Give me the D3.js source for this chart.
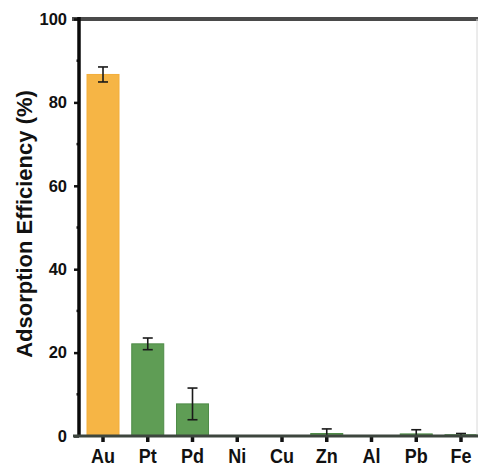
<!DOCTYPE html>
<html><head><meta charset="utf-8">
<script src="https://cdn.jsdelivr.net/npm/d3@7"></script>
<style>body{margin:0;background:#fff}svg{display:block}</style>
</head><body>
<svg id="c" width="478" height="467"></svg>
<script>
const categories = ["Au","Pt","Pd","Ni","Cu","Zn","Al","Pb","Fe"];
const values = [86.7, 22.1, 7.7, 0, 0, 0.6, 0, 0.5, 0.3];
const errors = [1.8, 1.4, 3.8, 0, 0, 1.1, 0, 1.0, 0.3];
const barColors = ["#f6b545","#5f9d55","#5f9d55","#5f9d55","#5f9d55","#5f9d55","#5f9d55","#5f9d55","#5f9d55"];
const yTicks = [0,20,40,60,80,100];
const yMinor = [10,30,50,70,90];

const svg = d3.select("#c");
const y = d3.scaleLinear().domain([0,100]).range([436,19]);
const x = d3.scaleBand().domain(categories).range([79,485]).paddingInner(0.285).paddingOuter(0.179);
const font = "Arial, 'Liberation Sans', sans-serif";

// bars
svg.selectAll("rect.bar").data(categories).enter().append("rect")
  .attr("x", d=>x(d)).attr("width", x.bandwidth())
  .attr("y", (d,i)=>y(values[i])).attr("height",(d,i)=>y(0)-y(values[i]))
  .attr("fill",(d,i)=>barColors[i])
  .attr("stroke",(d,i)=> i===0 ? "#f3ae3a" : "#4f8c48").attr("stroke-width",1);

// error bars
const eb = svg.append("g").attr("stroke","#1a1a1a").attr("stroke-width",1.6);
categories.forEach((c,i)=>{
  if(errors[i]<=0) return;
  const cx = x(c)+x.bandwidth()/2;
  const t = y(values[i]+errors[i]), b = y(Math.max(0,values[i]-errors[i]));
  eb.append("line").attr("x1",cx).attr("x2",cx).attr("y1",t).attr("y2",b);
  eb.append("line").attr("x1",cx-5).attr("x2",cx+5).attr("y1",t).attr("y2",t);
  eb.append("line").attr("x1",cx-5).attr("x2",cx+5).attr("y1",b).attr("y2",b);
});

// top border
svg.append("line").attr("x1",72).attr("x2",478).attr("y1",y(100)).attr("y2",y(100))
  .attr("stroke","#4a4a4a").attr("stroke-width",4);
// right faint border
svg.append("line").attr("x1",477).attr("x2",477).attr("y1",y(100)).attr("y2",y(0))
  .attr("stroke","#d8d8d8").attr("stroke-width",1);

// y axis
const ya = svg.append("g").attr("transform","translate(79,0)")
  .call(d3.axisLeft(y).tickValues(yTicks).tickSize(5).tickPadding(7));
ya.select(".domain").remove();
ya.selectAll(".tick line").attr("stroke","#111").attr("stroke-width",2.5);
ya.selectAll(".tick text").attr("font-family",font).attr("font-weight","bold").attr("font-size",16.5).attr("fill","#111");
svg.append("g").selectAll("line").data(yMinor).enter().append("line")
  .attr("x1",76.5).attr("x2",79).attr("y1",d=>y(d)).attr("y2",d=>y(d))
  .attr("stroke","#111").attr("stroke-width",2.5);
svg.append("line").attr("x1",79).attr("x2",79).attr("y1",y(100)-2).attr("y2",y(0)+1)
  .attr("stroke","#0a0a0a").attr("stroke-width",3.5);

// x axis
const xa = svg.append("g").attr("transform",`translate(0,${y(0)})`)
  .call(d3.axisBottom(x).tickSize(6).tickPadding(7));
xa.select(".domain").remove();
xa.selectAll(".tick line").attr("stroke","#111").attr("stroke-width",3.5).attr("y1",1);
xa.selectAll(".tick text").attr("font-family",font).attr("font-weight","bold").attr("font-size",20)
  .attr("fill","#111").attr("transform","scale(0.9,1)");
svg.append("line").attr("x1",73).attr("x2",478).attr("y1",y(0)).attr("y2",y(0))
  .attr("stroke","#3d463e").attr("stroke-width",3);

// y label
svg.append("text").attr("transform",`translate(32,${224}) rotate(-90)`)
  .attr("text-anchor","middle").attr("font-family",font).attr("font-weight","bold")
  .attr("font-size",22).attr("fill","#111").text("Adsorption Efficiency (%)");
</script>
</body></html>
